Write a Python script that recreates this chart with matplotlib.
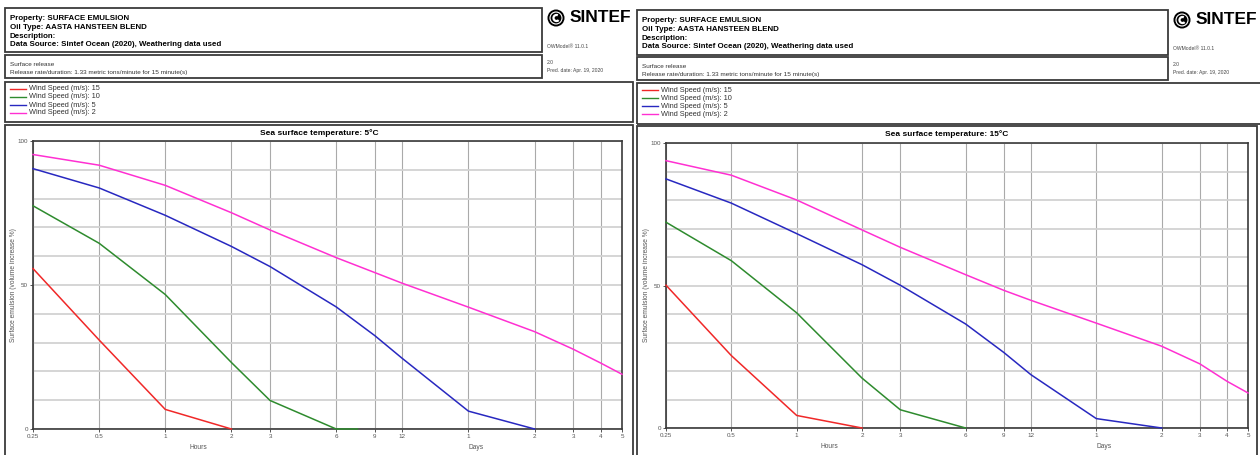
import numpy as np
import matplotlib.pyplot as plt
from matplotlib.patches import Rectangle, Ellipse, Arc
from matplotlib.ticker import NullLocator

plt.rcParams['font.family'] = ['Liberation Sans', 'DejaVu Sans']

W, H = 1260, 455

# time axis (hours)
tick_hours = [0.25, 0.5, 1, 2, 3, 6, 9, 12, 24, 48, 72, 96, 120]
tick_labels = ['0.25', '0.5', '1', '2', '3', '6', '9', '12', '1', '2', '3', '4', '5']

wind_labels = ['Wind Speed (m/s): 15', 'Wind Speed (m/s): 10',
               'Wind Speed (m/s): 5', 'Wind Speed (m/s): 2']
wind_colors = ['#f02828', '#2e8b2e', '#2828c0', '#ff30d2']

# 5 degC
t_red_5 = [0.25, 0.5, 1, 2]
v_red_5 = [55.7, 30.9, 6.8, 0.0]
t_green_5 = [0.25, 0.5, 1, 2, 3, 6, 7.5]
v_green_5 = [77.5, 64.5, 46.7, 23.1, 9.9, 0.0, 0.0]
t_blue_5 = [0.25, 0.5, 1, 2, 3, 6, 9, 12, 24, 48]
v_blue_5 = [90.4, 83.7, 74.2, 63.4, 56.4, 42.4, 32.4, 24.5, 6.2, 0.0]
t_pink_5 = [0.25, 0.5, 1, 2, 3, 6, 9, 12, 24, 48, 72, 96, 120]
v_pink_5 = [95.3, 91.6, 84.6, 75.1, 69.1, 59.5, 54.3, 50.6, 42.3, 33.8, 27.7, 22.9, 19.0]

# 15 degC
t_red_15 = [0.25, 0.5, 1, 2]
v_red_15 = [50.1, 25.4, 4.4, 0.0]
t_green_15 = [0.25, 0.5, 1, 2, 3, 6]
v_green_15 = [72.2, 58.7, 40.4, 17.5, 6.4, 0.0]
t_blue_15 = [0.25, 0.5, 1, 2, 3, 6, 9, 12, 24, 48]
v_blue_15 = [87.4, 78.9, 68.2, 57.3, 50.1, 36.5, 26.5, 18.7, 3.3, 0.0]
t_pink_15 = [0.25, 0.5, 1, 2, 3, 6, 9, 12, 24, 48, 72, 96, 120]
v_pink_15 = [93.8, 88.7, 80.0, 69.5, 63.4, 53.8, 48.3, 44.8, 36.8, 28.7, 22.5, 16.4, 12.3]


def fx(x):
    return x / W


def fy(y):
    return 1 - y / H


def box(fig, x0, y0, x1, y1):
    fig.patches.append(Rectangle((fx(x0), fy(y1)), fx(x1) - fx(x0), fy(y0) - fy(y1),
                                 transform=fig.transFigure, fill=False,
                                 ec='#3a3a3a', lw=1.3))


def logo(fig, x, y):
    # rough sketch of the SINTEF mark: black disc with a white swirl
    cx, cy = fx(x + 9), fy(y)
    fig.patches.append(Ellipse((cx, cy), 17 / W, 17 / H, transform=fig.transFigure,
                               fc='black', ec='none'))
    fig.patches.append(Ellipse((cx, cy), 12 / W, 12 / H, transform=fig.transFigure,
                               fc='none', ec='white', lw=0.8))
    fig.patches.append(Arc((cx + 0.5 / W, cy), 6 / W, 6 / H, theta1=80, theta2=290,
                           transform=fig.transFigure, ec='white', lw=1.6))
    fig.text(fx(x + 23), fy(y), 'SINTEF', fontsize=12.5, fontweight='bold',
             va='center', ha='left')


def panel(fig, g, temp, series):
    box(fig, *g['head'])
    box(fig, *g['rel'])
    box(fig, *g['leg'])
    box(fig, *g['chart'])
    hx = g['head'][0] + 5
    hy = g['head'][1]
    lines = ['Property: SURFACE EMULSION', 'Oil Type: AASTA HANSTEEN BLEND',
             'Description:', 'Data Source: Sintef Ocean (2020), Weathering data used']
    for i, s in enumerate(lines):
        fig.text(fx(hx), fy(hy + 12.5 + 8.6 * i), s, fontsize=5.7, fontweight='bold',
                 va='baseline', ha='left')
    ry = g['rel'][1]
    fig.text(fx(hx), fy(ry + 11), 'Surface release', fontsize=4.6, color='#333',
             va='baseline')
    fig.text(fx(hx), fy(ry + 19), 'Release rate/duration: 1.33 metric tons/minute for 15 minute(s)',
             fontsize=4.6, color='#333', va='baseline')
    lx = g['logo'][0]
    logo(fig, lx, g['logo'][1])
    fig.text(fx(lx), fy(g['head'][1] + 40), 'OWModel\u00ae 11.0.1', fontsize=3.6,
             color='#444', va='baseline')
    fig.text(fx(lx), fy(ry + 9), '2.0', fontsize=3.6, color='#444', va='baseline')
    fig.text(fx(lx), fy(ry + 17), 'Pred. date: Apr. 19, 2020', fontsize=3.6, color='#444',
             va='baseline')

    gy = g['leg'][1]
    for i, (lab, col) in enumerate(zip(wind_labels, wind_colors)):
        yy = fy(gy + 7 + 8 * i)
        fig.add_artist(plt.Line2D([fx(hx), fx(hx + 16)], [yy, yy], color=col, lw=1.0,
                                  transform=fig.transFigure))
        fig.text(fx(hx + 19), yy, lab, fontsize=5.3, color='#333', va='center')

    cx0, cy0, cx1, cy1 = g['chart']
    fig.text(fx((cx0 + cx1) / 2), fy(cy0 + 8), f'Sea surface temperature: {temp}\u00b0C',
             fontsize=6, fontweight='bold', ha='center', va='center')

    px0, py0, px1, py1 = g['plot']
    ax = fig.add_axes([fx(px0), fy(py1), fx(px1) - fx(px0), fy(py0) - fy(py1)])
    ax.set_xscale('log')
    ax.set_xlim(0.25, 120)
    ax.set_ylim(0, 100)
    ax.set_xticks(tick_hours)
    ax.set_xticklabels(tick_labels)
    ax.xaxis.set_minor_locator(NullLocator())
    ax.set_yticks([0, 50, 100])
    ax.set_yticks(np.arange(10, 100, 10), minor=True)
    ax.tick_params(axis='both', which='major', labelsize=4.5, labelcolor='#555',
                   length=2.5, width=0.7, color='#555', pad=1)
    ax.tick_params(axis='y', which='minor', length=0)
    ax.grid(axis='y', which='both', color='#d2d2d2', lw=1.3)
    ax.grid(axis='x', which='major', color='#aaaaaa', lw=0.8)
    ax.set_axisbelow(True)
    for sp in ax.spines.values():
        sp.set_color('#3a3a3a')
        sp.set_linewidth(1.2)
    for (t, v), col in zip(series, wind_colors):
        ax.plot(t, v, color=col, lw=1.1, clip_on=False, zorder=3)
    ax.text(0.28, -0.064, 'Hours', transform=ax.transAxes, fontsize=4.8, color='#555',
            ha='center', va='center')
    ax.text(0.752, -0.064, 'Days', transform=ax.transAxes, fontsize=4.8, color='#555',
            ha='center', va='center')
    fig.text(fx(cx0 + 9), fy((py0 + py1) / 2), 'Surface emulsion (volume increase %)',
             rotation=90, fontsize=4.8, color='#555', ha='center', va='center')
    return ax


fig = plt.figure(figsize=(W / 100, H / 100), dpi=100)

left = dict(head=(5, 8, 542, 52), rel=(5, 55, 542, 78), leg=(5, 82, 633, 122),
            chart=(5, 125, 633, 462), plot=(33, 141, 622, 429), logo=(547, 18))
right = dict(head=(637, 10, 1168, 55), rel=(637, 57, 1168, 80), leg=(637, 83, 1266, 124),
             chart=(637, 126, 1257, 462), plot=(666, 143, 1248, 428), logo=(1173, 20))

panel(fig, left, 5, [(t_red_5, v_red_5), (t_green_5, v_green_5),
                     (t_blue_5, v_blue_5), (t_pink_5, v_pink_5)])
panel(fig, right, 15, [(t_red_15, v_red_15), (t_green_15, v_green_15),
                       (t_blue_15, v_blue_15), (t_pink_15, v_pink_15)])

fig.savefig('out.png', dpi=100)
